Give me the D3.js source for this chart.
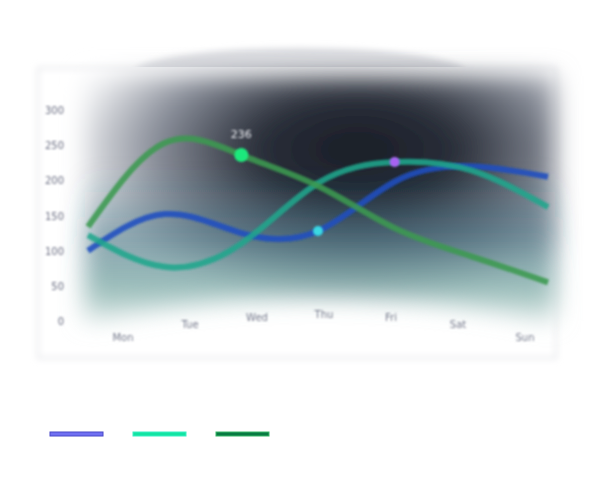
<!DOCTYPE html>
<html>
<head>
<meta charset="utf-8">
<script src="https://cdn.jsdelivr.net/npm/d3@7"></script>
<style>
  html, body { margin: 0; padding: 0; background: #fff; }
  svg { display: block; font-family: "DejaVu Sans", sans-serif; }
</style>
</head>
<body>
<svg id="chart" width="600" height="500"></svg>
<script>
const days = ["Mon", "Tue", "Wed", "Thu", "Fri", "Sat", "Sun"];
const yTicks = [0, 50, 100, 150, 200, 250, 300];
const seriesA = [100, 152, 125, 128, 198, 220, 205];
const seriesB = [122, 77, 110, 196, 226, 214, 162];
const seriesC = [134, 253, 236, 192, 132, 92, 55];
const lineColors = ["#1f4fc0", "#1fa68c", "#3c9a50"];
const legendFill = ["#7070f2", "#12e4a2", "#087a42"];
const legendStroke = ["#4848c8", "#38f0c4", "#38b868"];
// highlighted points: [series index, day index, colour, radius]
const marks = [[2, 2, "#1fe87c", 7], [0, 3, "#3ad8e2", 5], [1, 4, "#a862f2", 5]];

const svg = d3.select("#chart");
const series = [seriesA, seriesB, seriesC];

const x = d3.scalePoint().domain(days).range([88, 548]);
const xLab = d3.scalePoint().domain(days).range([123, 525]);
const y = d3.scaleLinear().domain([0, 300]).range([321, 110]);

const defs = svg.append("defs");
const blur = (id, s) => defs.append("filter").attr("id", id)
  .attr("x", "-30%").attr("y", "-30%").attr("width", "160%").attr("height", "160%")
  .append("feGaussianBlur").attr("stdDeviation", s);
blur("bg", 12);
blur("soft", 1.3);
blur("txt", 1.1);
blur("edge", 3);

const rg = defs.append("radialGradient").attr("id", "dark")
  .attr("cx", 0.58).attr("cy", 0.3).attr("r", 0.62);
[[0, "#191c25"], [0.35, "#2a2f3a"], [0.7, "#8a8f9a"], [1, "#f3f4f6"]]
  .forEach(([o, c]) => rg.append("stop").attr("offset", o).attr("stop-color", c));

const lg = defs.append("linearGradient").attr("id", "teal")
  .attr("x1", 0).attr("y1", 0).attr("x2", 0).attr("y2", 1);
lg.append("stop").attr("offset", 0.4).attr("stop-color", "#1e4f60").attr("stop-opacity", 0);
lg.append("stop").attr("offset", 0.65).attr("stop-color", "#24566a").attr("stop-opacity", 0.5);
lg.append("stop").attr("offset", 0.88).attr("stop-color", "#5f9c94").attr("stop-opacity", 0.6);
lg.append("stop").attr("offset", 1).attr("stop-color", "#d6e6e2").attr("stop-opacity", 0.7);

// card and top cap
svg.append("rect").attr("x", 38).attr("y", 68).attr("width", 518).attr("height", 290)
  .attr("fill", "#fff").attr("stroke", "#e2e3e7").attr("stroke-width", 2)
  .attr("filter", "url(#edge)");
defs.append("clipPath").attr("id", "capclip")
  .append("rect").attr("x", 0).attr("y", 0).attr("width", 600).attr("height", 67);
svg.append("ellipse").attr("cx", 300).attr("cy", 72).attr("rx", 165).attr("ry", 24)
  .attr("fill", "#dcdde1").attr("clip-path", "url(#capclip)").attr("filter", "url(#edge)");

// plot background
const x0 = x.range()[0] - 3, x1 = x.range()[1] + 7;
const panel = `M${x0},76 L${x1},76 L${x1},${y(0)} Q${(x0 + x1) / 2},${y(0) - 50} ${x0},${y(0)} Z`;
svg.append("path").attr("d", panel).attr("fill", "url(#dark)").attr("filter", "url(#bg)");
svg.append("path").attr("d", panel).attr("fill", "url(#teal)").attr("filter", "url(#bg)");

// y axis labels
svg.append("g").selectAll("text").data(yTicks).join("text")
  .attr("x", 64).attr("y", d => y(d) + 4)
  .attr("text-anchor", "end").attr("font-size", 10).attr("fill", "#6a6e82")
  .attr("filter", "url(#txt)").text(d => d);

// x axis labels, lying on a slight arc
const mid = (xLab.range()[0] + xLab.range()[1]) / 2;
svg.append("g").selectAll("text").data(days).join("text")
  .attr("x", d => xLab(d))
  .attr("y", d => 318 + 23 * Math.pow((xLab(d) - mid) / 200, 2))
  .attr("text-anchor", "middle").attr("font-size", 10).attr("fill", "#767a8c")
  .attr("filter", "url(#txt)").text(d => d);

// lines
const line = d3.line().x((d, i) => x(days[i])).y(d => y(d)).curve(d3.curveNatural);
svg.append("g").selectAll("path").data(series).join("path")
  .attr("d", line).attr("fill", "none")
  .attr("stroke", (d, i) => lineColors[i]).attr("stroke-width", 6)
  .attr("stroke-opacity", 0.88).attr("filter", "url(#soft)");

// highlighted points
svg.append("g").selectAll("circle").data(marks).join("circle")
  .attr("cx", d => x(days[d[1]])).attr("cy", d => y(series[d[0]][d[1]]))
  .attr("r", d => d[3]).attr("fill", d => d[2]).attr("filter", "url(#soft)");
svg.append("text")
  .attr("x", x(days[marks[0][1]])).attr("y", y(series[marks[0][0]][marks[0][1]]) - 17)
  .attr("text-anchor", "middle").attr("font-size", 11).attr("fill", "#eceef2")
  .attr("filter", "url(#txt)").text(series[marks[0][0]][marks[0][1]]);

// legend swatches
svg.append("g").selectAll("rect").data(legendFill).join("rect")
  .attr("x", (d, i) => 50 + i * 83).attr("y", 432).attr("width", 53).attr("height", 4)
  .attr("fill", d => d).attr("stroke", (d, i) => legendStroke[i]).attr("stroke-width", 1);
</script>
</body>
</html>
